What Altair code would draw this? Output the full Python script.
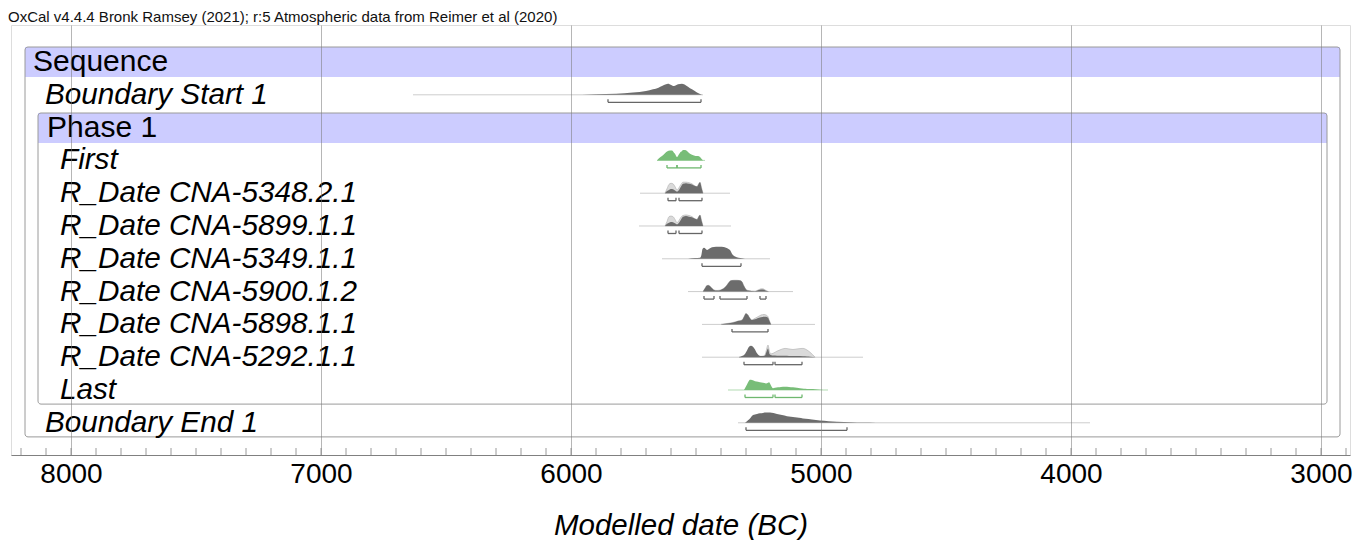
import altair as alt
import pandas as pd

TITLE = "OxCal v4.4.4 Bronk Ramsey (2021); r:5 Atmospheric data from Reimer et al (2020)"
AXIS_TITLE = "Modelled date (BC)"
TICK_YEARS = [8000, 7000, 6000, 5000, 4000, 3000]
MINOR_TICKS = list(range(8200, 2899, -100))

# rows (0 = top)
ROW_NAMES = ["Sequence", "Boundary Start 1", "Phase 1", "First",
             "R_Date CNA-5348.2.1", "R_Date CNA-5899.1.1", "R_Date CNA-5349.1.1",
             "R_Date CNA-5900.1.2", "R_Date CNA-5898.1.1", "R_Date CNA-5292.1.1",
             "Last", "Boundary End 1"]

# ---- distributions (years BC, relative heights) ----
bs1_years = [5956, 5900, 5820, 5752, 5700, 5672, 5650, 5636, 5620, 5612, 5600, 5588, 5572, 5556, 5540, 5524, 5508, 5496, 5476]
bs1_post = [0, 0.4, 1.0, 2, 3.5, 5, 6.5, 8, 9.5, 10, 9, 8, 9.5, 10, 8.5, 6, 4, 2, 0]

first_years = [5656, 5648, 5636, 5624, 5616, 5604, 5596, 5588, 5584, 5576, 5568, 5564, 5556, 5552, 5544, 5536, 5524, 5508, 5496, 5492, 5484, 5480, 5472]
first_post = [0, 2, 4, 6.5, 8, 9, 9, 7, 6, 3, 5.5, 7, 8.5, 9.5, 9.5, 8.5, 6, 4.5, 4, 4, 3, 2, 0]

d5348_years = [5624, 5616, 5608, 5600, 5592, 5584, 5576, 5568, 5560, 5552, 5540, 5528, 5516, 5504, 5496, 5488, 5484, 5478, 5472]
d5348_like = [0, 4, 8, 9, 8.5, 6, 3, 5, 8, 10, 10, 9.5, 8.5, 6.5, 6, 9, 10, 5, 0]
d5348_post = [0, 2, 3, 3.8, 3.5, 2.5, 1.5, 3, 6, 8.5, 9, 8.5, 8, 6.5, 6, 9, 10, 5, 0]

d5899_years = [5624, 5616, 5608, 5600, 5592, 5584, 5576, 5568, 5560, 5552, 5540, 5528, 5516, 5504, 5496, 5488, 5484, 5478, 5472]
d5899_like = [0, 4, 8.5, 9, 8.5, 6, 3, 5, 8, 9.5, 10, 9.5, 8.5, 6.5, 6, 9, 10, 5, 0]
d5899_post = [0, 2, 3, 3.6, 3.3, 2.5, 1.5, 3, 6, 8.5, 9, 8.5, 8, 6.5, 6, 9, 10, 5, 0]

d5349_years = [5532, 5504, 5484, 5478, 5474, 5468, 5456, 5444, 5436, 5420, 5404, 5390, 5380, 5370, 5364, 5354, 5344, 5330, 5316, 5304]
d5349_post = [0, 0.7, 1, 4, 9, 10, 8, 9.5, 10.5, 11, 11, 10.8, 10, 9, 8, 4, 2, 1, 0.5, 0]

d5900_years = [5472, 5464, 5456, 5450, 5440, 5428, 5416, 5404, 5392, 5384, 5376, 5368, 5360, 5348, 5336, 5324, 5316, 5308, 5300, 5292, 5264, 5248, 5240, 5232, 5224, 5216, 5210]
d5900_like = [0, 3, 5.5, 5.7, 4, 1.5, 1, 1.3, 2.5, 4, 6, 8.5, 10, 10.3, 10.3, 10, 9, 5, 2, 1, 0.4, 1.8, 2.5, 2.5, 1.5, 0.5, 0]
d5900_post = [0, 3, 5.5, 5.7, 4, 1.5, 1, 1.3, 2.5, 4, 6, 8.5, 10, 10.3, 10.3, 10, 9, 5, 2, 1, 0.4, 1.5, 2, 2, 1.2, 0.5, 0]

d5898_years = [5400, 5384, 5370, 5356, 5340, 5332, 5316, 5308, 5300, 5292, 5288, 5280, 5276, 5268, 5260, 5248, 5240, 5228, 5220, 5212, 5206, 5200]
d5898_like = [0, 0.5, 1, 1.5, 2.5, 3, 4, 7, 10, 8.5, 7, 4.5, 4, 5, 6, 7.5, 8.5, 9, 8.5, 7, 3, 0]
d5898_post = [0, 0.5, 1, 1.5, 2.5, 3, 4, 7, 10, 8.5, 7, 4.5, 4, 4.5, 5, 6, 6.5, 7, 7, 6, 3, 0]

d5292_years = [5328, 5316, 5304, 5296, 5288, 5280, 5272, 5264, 5256, 5248, 5240, 5232, 5224, 5218, 5212, 5206, 5200, 5192, 5176, 5160, 5144, 5128, 5112, 5096, 5072, 5056, 5044, 5024]
d5292_like = [0, 0.6, 2, 4, 5.5, 6, 5.5, 4, 2, 1, 0.8, 1, 2, 7, 11, 5, 3, 3.5, 5.5, 7, 8, 7.5, 7, 7.5, 8, 6.5, 4.5, 0]
d5292_post = [0, 1, 3, 6, 9.5, 10.5, 9.5, 7, 3.5, 1.5, 1, 1, 1.5, 5, 8, 3, 2, 1.5, 1.4, 1.3, 1.2, 1.1, 1, 1, 0.8, 0.6, 0.4, 0]

last_years = [5308, 5296, 5288, 5284, 5276, 5264, 5252, 5244, 5232, 5220, 5212, 5208, 5204, 5200, 5192, 5184, 5172, 5160, 5144, 5128, 5112, 5096, 5084, 5068, 5056, 5040, 5024, 5004, 4972]
last_post = [0, 5, 8.5, 9.3, 9, 8, 7.5, 7, 6.5, 6, 6.5, 7, 6, 4, 1.5, 2, 2.5, 2.8, 3, 2.8, 2.5, 2, 1.5, 1.2, 1, 0.8, 0.6, 0.3, 0]

be1_years = [5304, 5296, 5288, 5280, 5272, 5256, 5244, 5232, 5220, 5204, 5190, 5176, 5156, 5136, 5120, 5104, 5088, 5072, 5050, 5036, 5020, 5004, 4970, 4936, 4880, 4832, 4780, 4724]
be1_post = [0, 1.5, 3, 5, 7, 8, 8.7, 9, 9.3, 9.3, 8.8, 8, 7, 6, 5.5, 5, 4.5, 4, 3.5, 3, 2.5, 2, 1.5, 1, 0.6, 0.3, 0.15, 0]

# thin baseline extents (start, end) per row
line_rows = [1, 3, 4, 5, 6, 7, 8, 9, 10, 11]
line_start = [6632, 5656, 5724, 5728, 5636, 5532, 5476, 5476, 5372, 5332]
line_end = [5472, 5464, 5364, 5360, 5204, 5112, 5024, 4832, 4972, 3924]
line_green = [False, True, False, False, False, False, False, False, True, False]

# highest-probability ranges (brackets)
brk_rows = [1, 3, 3, 4, 4, 5, 5, 6, 7, 7, 7, 8, 9, 9, 10, 10, 11]
brk_start = [5852, 5616, 5576, 5612, 5568, 5612, 5568, 5476, 5468, 5404, 5244, 5356, 5308, 5184, 5304, 5184, 5300]
brk_end = [5480, 5576, 5480, 5580, 5476, 5580, 5476, 5320, 5428, 5296, 5220, 5212, 5192, 5076, 5192, 5076, 4896]
brk_green = [False, True, True, False, False, False, False, False, False, False, False, False, False, False, True, True, False]

# ---- geometry helpers ----
ROW_PX = 32.8          # pixels per row unit
PLOT_W, PLOT_H = 1339, 430
X_DOMAIN = [2884, 8240]
Y_DOMAIN = [-1.128, 11.982]
HSCALE = 1.1           # relative height -> pixels

GRAY = "#6c6c6c"
LIGHT = "#dadada"
GREEN = "#78bd78"
FONT = "Liberation Sans"

xscale = alt.Scale(domain=X_DOMAIN, reverse=True, nice=False, zero=False)
yscale = alt.Scale(domain=Y_DOMAIN, reverse=True, nice=False, zero=False)
xaxis = alt.Axis(values=TICK_YEARS, format="d", grid=True, gridColor="#7a7a7a",
                 gridOpacity=0.55, gridWidth=1, ticks=False, domainColor="#808080",
                 labelFontSize=28, labelFont=FONT, labelColor="black", labelPadding=5,
                 title=AXIS_TITLE, titleFont=FONT, titleFontSize=29.5, titleFontStyle="italic",
                 titleFontWeight="normal", titleColor="black", titlePadding=23, zindex=1)


def X(f):
    return alt.X(f, type="quantitative", scale=xscale, axis=xaxis)


def Y(f):
    return alt.Y(f, type="quantitative", scale=yscale, axis=None)


def dist(row, years, h, kind):
    return pd.DataFrame({"row": row, "kind": kind, "year": years, "h": h})


parts = [
    dist(1, bs1_years, bs1_post, "post"),
    dist(3, first_years, first_post, "green"),
    dist(4, d5348_years, d5348_like, "like"), dist(4, d5348_years, d5348_post, "post"),
    dist(5, d5899_years, d5899_like, "like"), dist(5, d5899_years, d5899_post, "post"),
    dist(6, d5349_years, d5349_post, "post"),
    dist(7, d5900_years, d5900_like, "like"), dist(7, d5900_years, d5900_post, "post"),
    dist(8, d5898_years, d5898_like, "like"), dist(8, d5898_years, d5898_post, "post"),
    dist(9, d5292_years, d5292_like, "like"), dist(9, d5292_years, d5292_post, "post"),
    dist(10, last_years, last_post, "green"),
    dist(11, be1_years, be1_post, "post"),
]
area_df = pd.concat(parts, ignore_index=True)
area_df["ytop"] = area_df["row"] - area_df["h"] * HSCALE / ROW_PX
area_df["ybase"] = area_df["row"].astype(float)
area_df["grp"] = area_df["row"].astype(str) + "_" + area_df["kind"]

line_df = pd.DataFrame({"row": line_rows, "s": line_start, "e": line_end, "green": line_green})
brk_df = pd.DataFrame({"row": brk_rows, "s": brk_start, "e": brk_end, "green": brk_green})
brk_df["yb"] = brk_df["row"] + 7.5 / ROW_PX
brk_df["yt"] = brk_df["row"] + 4.5 / ROW_PX
ends = pd.concat([brk_df[["row", "s", "yb", "yt", "green"]].rename(columns={"s": "year"}),
                  brk_df[["row", "e", "yb", "yt", "green"]].rename(columns={"e": "year"})],
                 ignore_index=True)

# group boxes: Sequence and Phase 1
box_df = pd.DataFrame({"x1": [8184, 8132], "x2": [2924, 2976],
                       "y1": [-0.457, 1.555], "y2": [11.43, 10.43],
                       "h1": [-0.457, 1.555], "h2": [0.457, 2.47]})

bands = alt.Chart(box_df).mark_rect(color="#ccccff", opacity=1).encode(
    x=X("x1"), x2="x2", y=Y("h1"), y2="h2")
boxes = alt.Chart(box_df).mark_rect(fill=None, stroke="#9a9a9a", strokeWidth=1, cornerRadius=3).encode(
    x=X("x1"), x2="x2", y=Y("y1"), y2="y2")

thin_gray = alt.Chart(line_df[~line_df["green"]]).mark_rule(strokeWidth=1, color="#cdcdcd").encode(
    x=X("s"), x2="e", y=Y("row"))
thin_green = alt.Chart(line_df[line_df["green"]]).mark_rule(strokeWidth=1, color="#b2dbb2").encode(
    x=X("s"), x2="e", y=Y("row"))

like = alt.Chart(area_df[area_df["kind"] == "like"]).mark_area(
    fill=LIGHT, fillOpacity=1, opacity=1, stroke="#b4b4b4", strokeWidth=0.7, interpolate="monotone").encode(
    x=X("year"), y=Y("ytop"), y2="ybase", detail="grp:N")
post = alt.Chart(area_df[area_df["kind"] == "post"]).mark_area(
    fill=GRAY, fillOpacity=1, opacity=1, interpolate="monotone").encode(
    x=X("year"), y=Y("ytop"), y2="ybase", detail="grp:N")
green = alt.Chart(area_df[area_df["kind"] == "green"]).mark_area(
    fill=GREEN, fillOpacity=1, opacity=1, interpolate="monotone").encode(
    x=X("year"), y=Y("ytop"), y2="ybase", detail="grp:N")

brk_g = brk_df[~brk_df["green"]]
brk_v = brk_df[brk_df["green"]]
ends_g = ends[~ends["green"]]
ends_v = ends[ends["green"]]
brk1 = alt.Chart(brk_g).mark_rule(strokeWidth=1.3, color="#666666").encode(x=X("s"), x2="e", y=Y("yb"))
brk2 = alt.Chart(brk_v).mark_rule(strokeWidth=1.3, color="#6fb86f").encode(x=X("s"), x2="e", y=Y("yb"))
end1 = alt.Chart(ends_g).mark_rule(strokeWidth=1.3, color="#666666").encode(x=X("year"), y=Y("yt"), y2="yb")
end2 = alt.Chart(ends_v).mark_rule(strokeWidth=1.3, color="#6fb86f").encode(x=X("year"), y=Y("yt"), y2="yb")

minor = alt.Chart(pd.DataFrame({"year": MINOR_TICKS})).mark_rule(color="#9a9a9a", strokeWidth=1).encode(
    x=X("year"), y=alt.value(PLOT_H - 7), y2=alt.value(PLOT_H))

lab_df = pd.DataFrame({"name": ROW_NAMES, "row": list(range(len(ROW_NAMES)))})


def labels(names, px, italic, size):
    d = lab_df[lab_df["name"].isin(names)]
    return alt.Chart(d).mark_text(align="left", baseline="middle", font=FONT, fontSize=size,
                                  fontStyle="italic" if italic else "normal", color="black").encode(
        x=alt.value(px), y=Y("row"), text="name")


lab_seq = labels(["Sequence"], 22, False, 30)
lab_phase = labels(["Phase 1"], 36, False, 30)
lab_bound = labels(["Boundary Start 1", "Boundary End 1"], 34, True, 29.7)
lab_items = labels(ROW_NAMES[3:11], 49, True, 29.7)

title = alt.Chart(pd.DataFrame({"t": [TITLE]})).mark_text(
    align="left", baseline="middle", font=FONT, fontSize=15, color="#111").encode(
    text="t", x=alt.value(-3), y=alt.value(-7.6))

chart = alt.layer(bands, boxes, thin_gray, thin_green, like, post, green,
                  brk1, brk2, end1, end2, minor,
                  lab_seq, lab_phase, lab_bound, lab_items, title).properties(
    width=PLOT_W, height=PLOT_H,
    autosize=alt.AutoSizeParams(type="none"),
    padding={"left": 3, "top": 17, "right": 8, "bottom": 85},
).configure_view(stroke="#9a9a9a", strokeWidth=1).configure(background="white")

chart.save("out.html", embed_options={"renderer": "svg", "actions": False})
